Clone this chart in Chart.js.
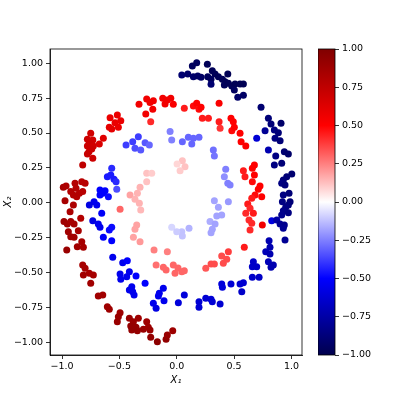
<!DOCTYPE html>
<html>
<head>
<meta charset="utf-8">
<script src="https://cdn.jsdelivr.net/npm/chart.js@4/dist/chart.umd.min.js"></script>
<style>
  html, body { margin: 0; padding: 0; background: #fff; }
  #wrap { position: relative; width: 407px; height: 407px; }
  #main { position: absolute; left: 0; top: 0; }
  #cbar { position: absolute; left: 318px; top: 0; }
</style>
</head>
<body>
<div id="wrap">
  <canvas id="main" width="407" height="407"></canvas>
  <canvas id="cbar" width="89" height="407"></canvas>
</div>
<script>
// ---------- data ----------
const X1 = [
  -0.329, -0.262, -0.233, -0.204, -0.270, -0.209, -0.227, -0.122, -0.082, -0.102, -0.052, -0.030,
  -0.581, -0.518, -0.488, -0.538, -0.588, -0.567, -0.509, -0.750, -0.779, -0.732, -0.762, -0.779,
  -0.727, -0.675, -0.640, -0.765, -0.741,
  -0.442, -0.384, -0.335, -0.364, -0.314, -0.276, -0.239, -0.058, -0.044,
  0.174, 0.136, 0.267, 0.044, 0.096, 0.145, 0.183, 0.212, 0.270, 0.310, 0.334, 0.299, 0.363, 0.299,
  0.398, 0.445, 0.421, 0.415, 0.450, 0.480, 0.508, 0.552, 0.581, 0.502, 0.532, 0.581,
  0.735, 0.799, 0.822, 0.909, 0.770, 0.851, 0.886, 0.857, 0.901, 0.697, 0.799, 0.938, 0.973,
  0.066, 0.145, 0.174, 0.194, 0.212, 0.369, 0.223, 0.276, 0.369, 0.378, 0.473, 0.493, 0.480, 0.502,
  0.552, 0.561, 0.602,
  0.049, 0.101, 0.145, 0.194, 0.131, 0.319,
  -0.779, -0.732, -0.820, -0.989, -0.965, -0.924, -0.887, -0.878, -0.828, -0.799, -0.901, -0.872,
  -0.849, -0.820, -0.974, -0.901, -0.930, -0.837, -0.983, -0.954, -0.924, -0.895, -0.945, -0.924,
  -0.895, -0.858, -0.828, -0.867, -0.814, -0.959,
  -0.567, -0.605, -0.575, -0.547, -0.529, -0.523, -0.669, -0.645, -0.625, -0.669, -0.596, -0.721,
  -0.762, -0.697, -0.654, -0.732, -0.684, -0.669, -0.588, -0.567, -0.640, -0.567,
  -0.262, -0.218, -0.262, -0.320, -0.407, -0.343, -0.364, -0.326, -0.314, -0.494, -0.349, -0.364,
  -0.378, -0.320, -0.198, -0.082,
  0.049, 0.072, 0.029, 0.003,
  -0.044, 0.044, 0.107, 0.049, 0.000,
  0.863, 0.915, 0.851, 1.003, 0.959, 0.929, 0.915, 0.944, 0.979, 0.929, 0.921, 0.988, 0.973, 0.950,
  0.929, 0.973, 0.915, 0.828, 0.872, 0.901, 0.938, 0.929, 0.944, 0.805, 0.813, 0.776,
  0.677, 0.659, 0.581, 0.595, 0.677, 0.659, 0.726, 0.711, 0.683, 0.741, 0.654, 0.619, 0.639, 0.602,
  0.668, 0.630, 0.654, 0.639, 0.746, 0.589, 0.450,
  0.328, 0.427, 0.415, 0.445, 0.465, 0.328, 0.363, 0.450, 0.392, 0.349, 0.290, 0.334, 0.310, 0.299,
  -0.820, -0.799, -0.814, -0.762, -0.727, -0.750, -0.684, -0.645, -0.605, -0.588, -0.494, -0.509,
  -0.518, -0.413, -0.335, -0.378, -0.401, -0.392, -0.355, -0.343, -0.291, -0.248, -0.233, -0.227,
  -0.169, -0.093, -0.082, -0.035, -0.262,
  -0.558, -0.471, -0.431, -0.494, -0.488, -0.413, -0.436, -0.355, -0.392, -0.413, -0.384, -0.372,
  -0.276, -0.117, -0.152, -0.160, -0.111, -0.204, -0.180, 0.014,
  -0.180, -0.117, -0.093, -0.030, -0.015, 0.011, 0.044, 0.066, 0.253, 0.299, 0.328, 0.392, 0.436, 0.406,
  0.066, 0.194, 0.194, 0.253, 0.299, 0.310, 0.378, 0.392, 0.398, 0.473, 0.552, 0.581, 0.567, 0.659,
  0.718, 0.659, 0.697, 0.668, 0.813, 0.799, 0.842, 0.822
];
const X2 = [
  0.706, 0.744, 0.718, 0.732, 0.637, 0.670, 0.581, 0.749, 0.737, 0.708, 0.749, 0.706,
  0.610, 0.629, 0.588, 0.574, 0.541, 0.529, 0.541, 0.498, 0.455, 0.450, 0.426, 0.407,
  0.407, 0.421, 0.462, 0.366, 0.386,
  0.414, 0.438, 0.474, 0.391, 0.378, 0.431, 0.414, 0.510, 0.450,
  1.004, 0.981, 0.993, 0.916, 0.923, 0.904, 0.909, 0.900, 0.904, 0.947, 0.923, 0.885, 0.904, 0.849,
  0.885, 0.923, 0.868, 0.844, 0.857, 0.837, 0.852, 0.852, 0.852, 0.809, 0.756, 0.771,
  0.685, 0.606, 0.565, 0.570, 0.517, 0.522, 0.502, 0.462, 0.445, 0.462, 0.378, 0.366, 0.350,
  0.677, 0.694, 0.713, 0.670, 0.685, 0.713, 0.606, 0.606, 0.581, 0.534, 0.606, 0.581, 0.517, 0.541,
  0.498, 0.438, 0.407,
  0.438, 0.470, 0.462, 0.470, 0.421, 0.378,
  0.350, 0.319, 0.271, 0.111, 0.120, 0.080, 0.140, 0.104, 0.151, 0.140, 0.056, 0.044,
  0.068, 0.080, 0.015, -0.016, -0.064, -0.111, -0.135, -0.152, -0.135, -0.152, -0.207, -0.243,
  -0.247, -0.200, -0.279, -0.315, -0.319, -0.338,
  0.247, 0.187, 0.199, 0.168, 0.151, 0.097, 0.092, 0.068, 0.087, 0.056, 0.044, 0.008,
  -0.016, -0.016, -0.075, -0.128, -0.152, -0.176, -0.195, -0.176, -0.247, -0.272,
  0.211, 0.211, 0.151, 0.111, 0.056, 0.068, 0.025, -0.004, -0.052, -0.047, -0.159, -0.190,
  -0.247, -0.279, -0.338, -0.351,
  0.302, 0.259, 0.230, 0.278,
  -0.176, -0.207, -0.183, -0.238, -0.207,
  0.335, 0.283, 0.271, 0.206, 0.187, 0.163, 0.140, 0.128, 0.068, 0.056, 0.008, 0.008, -0.016, -0.032,
  -0.057, -0.071, -0.087, -0.128, -0.123, -0.152, -0.159, -0.183, -0.267, -0.272, -0.319, -0.351,
  0.271, 0.247, 0.230, 0.187, 0.199, 0.151, 0.120, 0.097, 0.056, 0.044, 0.032, -0.009, -0.039, -0.075,
  -0.075, -0.123, -0.147, -0.195, -0.159, -0.319, -0.351,
  0.335, 0.240, 0.187, 0.140, 0.128, 0.015, -0.032, 0.008, -0.087, -0.095, -0.135, -0.152, -0.190, -0.214,
  -0.446, -0.470, -0.518, -0.505, -0.518, -0.577, -0.668, -0.661, -0.745, -0.763, -0.788, -0.816,
  -0.852, -0.828, -0.828, -0.852, -0.883, -0.912, -0.892, -0.917, -0.907, -0.892, -0.912, -0.964,
  -0.996, -0.978, -0.948, -0.917, -0.852,
  -0.391, -0.429, -0.415, -0.510, -0.548, -0.494, -0.530, -0.525, -0.601, -0.625, -0.637, -0.661,
  -0.577, -0.613, -0.649, -0.668, -0.702, -0.720, -0.756, -0.716,
  -0.446, -0.462, -0.482, -0.446, -0.505, -0.468, -0.494, -0.487, -0.470, -0.439, -0.439, -0.381, -0.405, -0.434,
  -0.661, -0.709, -0.749, -0.685, -0.692, -0.709, -0.725, -0.582, -0.606, -0.582, -0.582, -0.573, -0.637, -0.534,
  -0.534, -0.458, -0.458, -0.422, -0.367, -0.422, -0.446, -0.462
];
// colour value of each point (seismic colormap, -1 .. 1)
const Z = [
  0.55, 0.55, 0.55, 0.55, 0.55, 0.55, 0.42, 0.55, 0.55, 0.55, 0.55, 0.52,
  0.58, 0.58, 0.58, 0.58, 0.60, 0.60, 0.58, 0.68, 0.70, 0.68, 0.70, 0.70,
  0.68, 0.65, 0.62, 0.70, 0.70,
  -0.38, -0.38, -0.38, -0.35, -0.33, -0.33, -0.30, -0.25, -0.25,
  -0.95, -0.95, -0.97, -0.90, -0.92, -0.92, -0.93, -0.93, -0.95, -0.97, -0.97, -0.95, -0.97, -0.90,
  -0.97, -0.98, -0.97, -0.96, -0.97, -0.97, -0.98, -0.98, -0.98, -0.95, -0.92, -0.93,
  -0.90, -0.88, -0.88, -0.92, -0.80, -0.85, -0.88, -0.85, -0.88, -0.62, -0.72, -0.90, -0.92,
  0.45, 0.48, 0.50, 0.48, 0.50, 0.52, 0.45, 0.45, 0.45, 0.40, 0.50, 0.50, 0.48, 0.50,
  0.50, 0.50, 0.52,
  -0.30, -0.30, -0.30, -0.30, -0.30, -0.28,
  0.72, 0.70, 0.75, 0.85, 0.82, 0.80, 0.80, 0.80, 0.78, 0.78, 0.80, 0.80,
  0.80, 0.78, 0.85, 0.82, 0.83, 0.80, 0.88, 0.87, 0.85, 0.85, 0.87, 0.87,
  0.86, 0.85, 0.85, 0.87, 0.85, 0.90,
  -0.42, -0.45, -0.45, -0.45, -0.42, -0.35, -0.50, -0.50, -0.50, -0.50, -0.48, -0.55,
  -0.58, -0.55, -0.52, -0.58, -0.55, -0.55, -0.48, -0.48, -0.52, -0.50,
  0.12, 0.10, 0.12, 0.15, 0.18, 0.15, 0.15, 0.15, 0.14, 0.30, 0.18, 0.18,
  0.18, 0.20, 0.25, 0.25,
  0.12, 0.12, 0.10, 0.08,
  -0.08, -0.12, -0.15, -0.12, -0.10,
  -0.85, -0.88, -0.85, -0.90, -0.88, -0.87, -0.85, -0.87, -0.88, -0.85, -0.85, -0.88, -0.87, -0.85,
  -0.83, -0.85, -0.82, -0.60, -0.75, -0.80, -0.82, -0.80, -0.80, -0.72, -0.72, -0.70,
  0.50, 0.50, 0.45, 0.45, 0.50, 0.48, 0.50, 0.50, 0.48, 0.50, 0.45, 0.45, 0.42, 0.42,
  0.45, 0.42, 0.42, 0.42, 0.55, 0.45, 0.38,
  -0.27, -0.25, -0.22, -0.25, -0.25, -0.18, -0.18, -0.20, -0.18, -0.18, -0.16, -0.18, -0.18, -0.18,
  0.85, 0.85, 0.87, 0.85, 0.85, 0.87, 0.87, 0.87, 0.88, 0.88, 0.88, 0.90,
  0.90, 0.90, 0.88, 0.90, 0.92, 0.92, 0.92, 0.92, 0.90, 0.88, 0.90, 0.92,
  0.95, 0.93, 0.90, 0.88, 0.88,
  -0.55, -0.55, -0.50, -0.55, -0.55, -0.55, -0.55, -0.50, -0.55, -0.55, -0.55, -0.55,
  -0.50, -0.55, -0.55, -0.55, -0.55, -0.55, -0.58, -0.60,
  0.28, 0.30, 0.30, 0.30, 0.30, 0.30, 0.30, 0.30, 0.33, 0.35, 0.35, 0.35, 0.35, 0.35,
  -0.60, -0.62, -0.62, -0.62, -0.62, -0.62, -0.63, -0.60, -0.60, -0.62, -0.63, -0.63, -0.65, -0.65,
  -0.66, -0.65, -0.66, -0.65, -0.72, -0.70, -0.72, -0.72
];
const xTicks = [-1.0, -0.5, 0.0, 0.5, 1.0];
const yTicks = [-1.0, -0.75, -0.5, -0.25, 0.0, 0.25, 0.5, 0.75, 1.0];
const cbTicks = [-1.0, -0.75, -0.5, -0.25, 0.0, 0.25, 0.5, 0.75, 1.0];

// seismic colormap
const seismicStops = [
  [0.0, 0, 0, 0.3],
  [0.25, 0, 0, 1],
  [0.5, 1, 1, 1],
  [0.75, 1, 0, 0],
  [1.0, 0.5, 0, 0],
];
function seismic(v) {
  const t = Math.min(1, Math.max(0, (v + 1) / 2));
  for (let i = 1; i < seismicStops.length; i++) {
    const a = seismicStops[i - 1];
    const b = seismicStops[i];
    if (t <= b[0]) {
      const f = (t - a[0]) / (b[0] - a[0]);
      const c = [1, 2, 3].map((k) => Math.round(255 * (a[k] + (b[k] - a[k]) * f)));
      return `rgb(${c[0]},${c[1]},${c[2]})`;
    }
  }
  return 'rgb(128,0,0)';
}

const fmt = (v, d) => (v < 0 ? '\u2212' : '') + Math.abs(v).toFixed(d);
const tickFont = { family: 'DejaVu Sans', size: 9.5 };

// ---------- main scatter ----------
const frame = {
  id: 'frame',
  afterDraw(chart) {
    const { ctx, chartArea: { left, top, width, height } } = chart;
    ctx.save();
    ctx.strokeStyle = '#000';
    ctx.lineWidth = 0.8;
    ctx.strokeRect(left, top, width, height);
    ctx.restore();
  },
};

new Chart(document.getElementById('main'), {
  type: 'scatter',
  data: {
    datasets: [{
      data: X1.map((x, i) => ({ x, y: X2[i] })),
      pointBackgroundColor: Z.map(seismic),
      pointBorderWidth: 0,
      pointRadius: 3.5,
      pointHoverRadius: 3.5,
    }],
  },
  options: {
    responsive: false,
    animation: false,
    events: [],
    layout: { padding: { left: 0, top: 49, right: 105, bottom: 0 } },
    plugins: { legend: { display: false }, tooltip: { enabled: false } },
    scales: {
      x: {
        type: 'linear',
        min: -1.105,
        max: 1.092,
        afterBuildTicks: (s) => { s.ticks = xTicks.map((value) => ({ value })); },
        afterFit: (s) => { s.height = 52; },
        grid: { drawOnChartArea: false, drawTicks: true, tickLength: 4, tickColor: '#000', tickWidth: 0.8 },
        border: { display: true, color: '#000', width: 0.8 },
        ticks: { color: '#000', font: tickFont, padding: 2, maxRotation: 0, callback: (v) => fmt(v, 1) },
        title: {
          display: true, text: 'X\u2081', color: '#000',
          font: { family: 'DejaVu Sans', size: 10, style: 'italic' },
          padding: { top: 0, bottom: 21 },
        },
      },
      y: {
        type: 'linear',
        min: -1.091,
        max: 1.102,
        afterBuildTicks: (s) => { s.ticks = yTicks.map((value) => ({ value })); },
        afterFit: (s) => { s.width = 50; },
        grid: { drawOnChartArea: false, drawTicks: true, tickLength: 4, tickColor: '#000', tickWidth: 0.8 },
        border: { display: true, color: '#000', width: 0.8 },
        ticks: { color: '#000', font: tickFont, padding: 3, callback: (v) => fmt(v, 2) },
        title: {
          display: true, text: 'X\u2082', color: '#000',
          font: { family: 'DejaVu Sans', size: 10, style: 'italic' },
          padding: { top: 2, bottom: 0 },
        },
      },
    },
  },
  plugins: [frame],
});

// ---------- colour bar ----------
function barGradient(context) {
  const { chart } = context;
  const area = chart.chartArea;
  if (!area) return null;
  const g = chart.ctx.createLinearGradient(0, area.bottom, 0, area.top);
  seismicStops.forEach((s) => {
    g.addColorStop(s[0], `rgb(${Math.round(s[1] * 255)},${Math.round(s[2] * 255)},${Math.round(s[3] * 255)})`);
  });
  return g;
}

new Chart(document.getElementById('cbar'), {
  type: 'bar',
  data: {
    labels: [''],
    datasets: [{
      data: [[-1, 1]],
      backgroundColor: barGradient,
      borderWidth: 0,
      barPercentage: 1,
      categoryPercentage: 1,
    }],
  },
  options: {
    responsive: false,
    animation: false,
    events: [],
    layout: { padding: { left: 0, top: 49, right: 0, bottom: 52 } },
    plugins: { legend: { display: false }, tooltip: { enabled: false } },
    scales: {
      x: { display: false },
      y: {
        position: 'right',
        min: -1,
        max: 1,
        afterBuildTicks: (s) => { s.ticks = cbTicks.map((value) => ({ value })); },
        afterFit: (s) => { s.width = 72; },
        grid: { drawOnChartArea: false, drawTicks: true, tickLength: 4, tickColor: '#000', tickWidth: 0.8 },
        border: { display: false },
        ticks: { color: '#000', font: tickFont, padding: 3, callback: (v) => fmt(v, 2) },
      },
    },
  },
  plugins: [frame],
});
</script>
</body>
</html>
